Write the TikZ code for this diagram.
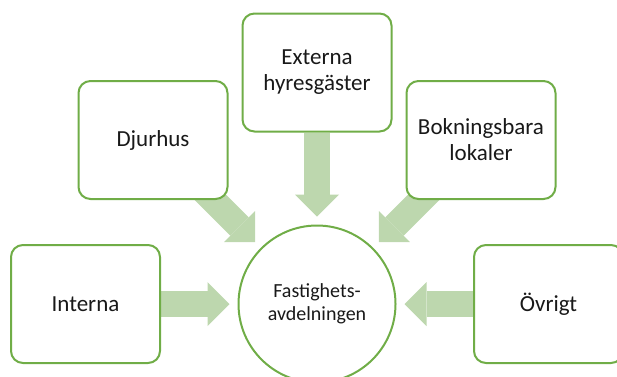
\documentclass[tikz,border=0pt]{standalone}
\usepackage{fontspec}
\setmainfont{Carlito}
\usetikzlibrary{arrows.meta,backgrounds}

\definecolor{boxgreen}{HTML}{70AD47}
\definecolor{feedgreen}{HTML}{BDD7AE}

\begin{document}
\begin{tikzpicture}[x=1pt,y=-1pt,line width=2pt,
                    feed/.style={line width=26pt,color=feedgreen,
                      -{Triangle[length=22pt,width=44pt,line width=0pt,
                                 fill=feedgreen]},
                      shorten >=8pt}]

  \tikzstyle{unit}=[rectangle,rounded corners=12pt,draw=boxgreen,fill=white,
                    minimum width=149pt,minimum height=118pt,align=center,
                    text=black!90,font=\fontsize{23}{26}\selectfont]
  \tikzstyle{hub}=[circle,draw=boxgreen,fill=white,minimum size=157pt,
                   align=center,text=black!90,font=\fontsize{20}{23}\selectfont]

  \clip (0,0) rectangle (617,376);

  \node[hub]  (FAS) at (317,304)   {Fastighets-\\avdelningen};

  \node[unit] (INT) at (85.5,304)  {Interna};
  \node[unit] (DJU) at (153,140)   {Djurhus};
  \node[unit] (EXT) at (317,72.5)  {Externa\\hyresgäster};
  \node[unit] (BOK) at (481,140)   {Bokningsbara\\lokaler};
  \node[unit] (OVR) at (548.5,304) {Övrigt};

  \begin{scope}[on background layer]
    \path[feed]
    (INT)        edge (FAS)
    (DJU.center) edge (FAS)
    (EXT)        edge (FAS)
    (BOK.center) edge (FAS)
    (OVR)        edge (FAS)
    ;
  \end{scope}
\end{tikzpicture}
\end{document}
